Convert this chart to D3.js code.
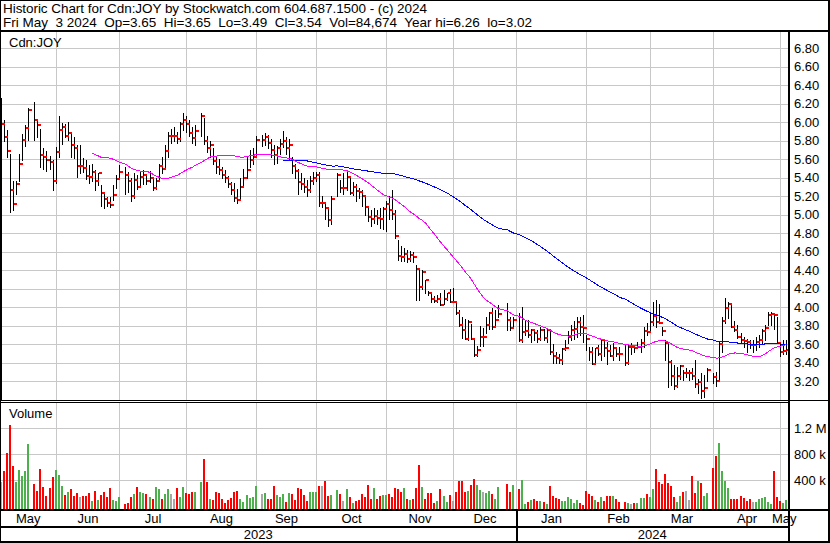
<!DOCTYPE html>
<html>
<head>
<meta charset="utf-8">
<script src="https://cdn.jsdelivr.net/npm/d3@7"></script>
<style>
body { margin: 0; background: #fff; }
text { font-family: "Liberation Sans", Arial, sans-serif; }
</style>
</head>
<body>
<script>
var width = 830,
    height = 543;

//chart frame
var plotR = 788,
    priceBot = 400,
    volTop = 403,
    volBot = 509;

//TSX holidays, weekdays with no trading
var holidays = ["2023-05-22", "2023-07-03", "2023-08-07", "2023-09-04", "2023-10-09",
                "2023-12-25", "2023-12-26", "2024-01-01", "2024-02-19", "2024-03-29"];

//daily bars, May 8 2023 - May 3 2024 (one line per month)
var hi = [6.26,6.02,5.92,5.66,5.36,5.36,5.66,5.87,5.97,6.15,6.22,6.01,5.93,5.72,5.69,5.64,5.59,
  5.73,6.07,5.99,5.98,6.00,5.90,5.84,5.75,5.75,5.61,5.59,5.54,5.55,5.48,5.45,5.32,5.23,5.19,5.19,5.32,5.43,5.54,
  5.52,5.46,5.40,5.45,5.43,5.46,5.48,5.44,5.47,5.40,5.40,5.55,5.62,5.75,5.90,5.93,5.95,5.90,6.00,6.10,
  6.07,6.03,5.95,5.97,6.10,6.05,5.85,5.80,5.72,5.64,5.60,5.52,5.48,5.42,5.35,5.34,5.28,5.40,5.50,5.62,5.70,5.72,
  5.85,5.86,5.88,5.86,5.82,5.75,5.74,5.82,5.91,5.84,5.82,5.62,5.55,5.50,5.45,5.40,5.38,5.42,5.46,5.46,
  5.46,5.20,5.13,5.07,5.20,5.45,5.38,5.45,5.47,5.42,5.35,5.33,5.29,5.27,5.20,5.10,5.05,5.07,5.05,5.07,5.08,
  5.15,5.20,5.27,5.05,4.73,4.66,4.64,4.62,4.61,4.60,4.46,4.40,4.40,4.30,4.18,4.16,4.12,4.13,4.15,4.19,4.15,4.20,
  4.21,4.06,3.97,3.90,3.87,3.86,3.82,3.66,3.58,3.80,3.78,3.90,3.95,3.99,3.97,4.02,4.05,3.90,3.90,
  3.94,4.00,3.86,3.86,3.77,3.74,3.76,3.79,3.77,3.77,3.74,3.60,3.52,3.50,3.56,3.65,3.74,3.81,3.85,3.90,3.90,3.92,
  3.70,3.57,3.57,3.56,3.59,3.66,3.66,3.63,3.59,3.61,3.56,3.57,3.59,3.60,3.61,3.59,3.63,3.66,3.79,3.83,
  3.95,4.06,4.08,4.04,3.79,3.65,3.63,3.43,3.38,3.36,3.38,3.32,3.34,3.32,3.34,3.43,3.23,3.29,3.27,3.34,
  3.29,3.30,3.63,3.90,4.10,4.06,4.04,3.85,3.81,3.72,3.68,3.66,3.65,3.65,3.68,3.70,3.77,3.81,3.95,3.95,3.94,3.90,
  3.61,3.65,3.65];

var lo = [3.00,5.80,5.62,5.03,5.05,5.22,5.36,5.59,5.74,5.81,5.81,5.84,5.52,5.50,5.47,5.50,5.27,
  5.34,5.63,5.77,5.84,5.81,5.63,5.61,5.41,5.45,5.46,5.39,5.34,5.37,5.27,5.32,5.10,5.07,5.09,5.08,5.16,5.29,5.41,
  5.23,5.25,5.15,5.18,5.28,5.30,5.33,5.33,5.35,5.27,5.28,5.37,5.45,5.50,5.62,5.78,5.80,5.78,5.80,5.92,
  5.90,5.85,5.78,5.75,5.85,5.77,5.68,5.62,5.55,5.45,5.44,5.40,5.35,5.30,5.22,5.15,5.13,5.18,5.32,5.40,5.52,5.55,
  5.62,5.74,5.75,5.72,5.62,5.55,5.56,5.66,5.73,5.66,5.60,5.45,5.40,5.23,5.28,5.25,5.20,5.25,5.33,5.36,
  5.10,5.08,4.95,4.88,4.90,5.20,5.25,5.23,5.27,5.22,5.21,5.15,5.18,5.10,5.00,4.93,4.88,4.91,4.90,4.86,4.85,
  4.83,4.95,4.95,4.75,4.51,4.50,4.50,4.49,4.50,4.49,4.08,4.08,4.20,4.15,4.13,4.06,4.06,4.06,4.02,4.04,4.08,4.06,
  4.06,3.93,3.80,3.67,3.66,3.65,3.66,3.47,3.47,3.58,3.58,3.72,3.77,3.77,3.81,3.90,3.75,3.75,3.80,
  3.64,3.63,3.70,3.68,3.63,3.65,3.63,3.65,3.65,3.63,3.50,3.40,3.40,3.40,3.39,3.54,3.61,3.65,3.66,3.68,3.70,3.63,
  3.54,3.43,3.39,3.39,3.48,3.43,3.47,3.39,3.47,3.43,3.47,3.43,3.38,3.39,3.50,3.52,3.56,3.52,3.57,3.70,
  3.74,3.81,3.79,3.83,3.70,3.43,3.14,3.16,3.12,3.14,3.23,3.21,3.25,3.21,3.23,3.14,3.07,3.02,3.03,3.20,
  3.18,3.15,3.23,3.52,3.83,3.88,3.79,3.74,3.67,3.61,3.57,3.52,3.56,3.52,3.54,3.57,3.61,3.65,3.81,3.81,3.77,3.61,
  3.47,3.50,3.49];

var cl = [5.98,5.84,5.69,5.27,5.12,5.33,5.55,5.81,5.94,6.13,6.02,5.97,5.65,5.63,5.59,5.57,5.36,
  5.68,5.92,5.95,5.85,5.88,5.76,5.72,5.53,5.53,5.51,5.42,5.41,5.46,5.36,5.45,5.24,5.17,5.13,5.11,5.21,5.39,5.46,
  5.43,5.37,5.20,5.38,5.30,5.41,5.43,5.36,5.40,5.29,5.36,5.53,5.50,5.69,5.85,5.85,5.85,5.82,5.98,6.02,
  5.98,5.88,5.83,5.91,6.07,5.80,5.72,5.75,5.58,5.52,5.48,5.43,5.40,5.33,5.27,5.18,5.16,5.30,5.40,5.48,5.59,5.63,
  5.81,5.81,5.84,5.78,5.70,5.65,5.72,5.77,5.80,5.72,5.75,5.53,5.47,5.35,5.33,5.30,5.27,5.36,5.40,5.43,
  5.13,5.13,5.07,4.94,5.17,5.43,5.29,5.29,5.41,5.24,5.30,5.26,5.25,5.20,5.08,4.98,4.96,4.99,4.97,4.95,5.06,
  5.12,5.05,5.01,4.77,4.56,4.54,4.58,4.52,4.57,4.54,4.41,4.22,4.38,4.29,4.16,4.09,4.07,4.09,4.03,4.09,4.15,4.06,
  4.06,3.94,3.81,3.75,3.66,3.84,3.66,3.48,3.54,3.68,3.68,3.81,3.94,3.79,3.86,3.93,3.86,3.78,3.86,
  3.65,3.73,3.74,3.70,3.76,3.72,3.66,3.75,3.67,3.75,3.52,3.47,3.45,3.43,3.55,3.56,3.68,3.76,3.77,3.84,3.79,3.78,
  3.66,3.52,3.39,3.56,3.49,3.65,3.56,3.53,3.47,3.56,3.50,3.49,3.40,3.57,3.57,3.56,3.57,3.61,3.74,3.73,
  3.84,3.91,3.84,3.83,3.74,3.61,3.41,3.26,3.15,3.26,3.37,3.29,3.29,3.29,3.26,3.17,3.19,3.09,3.13,3.32,
  3.25,3.20,3.60,3.85,3.99,4.04,3.79,3.76,3.68,3.65,3.64,3.62,3.59,3.59,3.62,3.65,3.74,3.78,3.92,3.93,3.92,3.61,
  3.52,3.53,3.54];

//volume in thousands of shares
var vol = [374,538,821,1246,615,369,554,462,538,954,338,236,569,292,154,277,446,
  554,477,308,169,215,262,154,200,138,154,154,200,77,231,92,169,215,138,277,92,77,138,
  31,46,138,185,292,215,200,185,138,108,292,262,108,185,262,185,108,277,138,292,
  200,185,215,215,369,723,369,108,92,215,200,108,46,92,123,215,231,108,62,169,123,138,
  308,185,200,108,108,308,169,138,185,62,200,185,92,277,262,169,77,215,215,215,
  308,308,385,154,169,246,185,77,262,138,46,77,92,185,138,323,108,277,108,154,169,
  169,185,138,277,262,215,277,108,92,108,277,631,292,108,200,200,46,77,262,154,62,169,
  77,215,385,385,215,231,323,415,323,246,215,200,231,190,108,292,338,215,323,
  262,400,31,62,92,108,77,77,62,31,308,154,123,108,77,77,138,108,46,92,46,15,
  231,185,154,92,62,138,77,154,154,154,108,62,62,46,31,46,46,123,123,185,
  138,262,569,369,338,492,354,308,138,62,154,215,231,92,462,200,385,354,154,200,
  585,769,969,538,385,277,108,108,108,154,123,77,108,62,62,108,123,138,62,31,538,138,
  77,46,84.674];

var priceTicks = [3.2, 3.4, 3.6, 3.8, 4.0, 4.2, 4.4, 4.6, 4.8, 5.0, 5.2, 5.4, 5.6, 5.8, 6.0, 6.2, 6.4, 6.6, 6.8];
var volTicks = [400000, 800000, 1200000],
    volTickLabels = ["400 k", "800 k", "1.2 M"];
var yearLabels = ["2023", "2024"];
var maShort = 30, maLong = 90;

var headerLine1 = "Historic Chart for Cdn:JOY by Stockwatch.com 604.687.1500 - (c) 2024";
var headerLine2 = "Fri May  3 2024  Op=3.65  Hi=3.65  Lo=3.49  Cl=3.54  Vol=84,674  Year hi=6.26  lo=3.02";

//weekday slots (holidays keep an empty slot)
var parse = d3.timeParse("%Y-%m-%d");
var hol = holidays.map(function(s) { return +parse(s); });
var slots = d3.timeDay.range(new Date(2023, 4, 8), new Date(2024, 4, 4))
    .filter(function(d) { var w = d.getDay(); return w > 0 && w < 6; });
var days = slots.filter(function(d) { return hol.indexOf(+d) < 0; });

var data = days.map(function(d, i) {
    return {date: d, hi: hi[i], lo: lo[i], cl: cl[i], vol: vol[i] * 1000,
            chg: i == 0 ? 0 : Math.sign(Math.round((cl[i] - cl[i-1]) * 100))};
});

//scales
var x = d3.scaleBand().domain(slots).range([0, plotR]);
var y = d3.scaleLinear().domain([3, 7]).range([399.8, 29.8]);
var yv = d3.scaleLinear().domain([0, 1200000]).range([506, 428]);

function cx(d) { return x(d) + x.bandwidth() / 2; }
function col(d) { return Math.floor(cx(d)); }

//DOM init
var svg = d3.select("body")
    .append("svg")
    .attr("width", width)
    .attr("height", height)
    .style("display", "block")
    .attr("shape-rendering", "crispEdges");

svg.append("rect").attr("width", width).attr("height", height).attr("fill", "#fff");

// ================ grid ================
//month gridlines: first day of month, pushed back to a weekday
var monthGrid = d3.timeMonth.range(new Date(2023, 5, 1), new Date(2024, 4, 2)).map(function(m) {
    var d = new Date(m);
    while (d.getDay() == 0 || d.getDay() == 6) d = d3.timeDay.offset(d, -1);
    return col(d) + 0.5;
});

var grid = svg.append("g").attr("stroke", "#c8c8c8");
monthGrid.forEach(function(gx) {
    grid.append("line").attr("x1", gx).attr("x2", gx).attr("y1", 32).attr("y2", priceBot);
    grid.append("line").attr("x1", gx).attr("x2", gx).attr("y1", volTop).attr("y2", volBot);
});

//price axis + horizontal grid
var priceAxis = svg.append("g")
    .attr("transform", "translate(" + plotR + ",0)")
    .call(d3.axisRight(y).tickValues(priceTicks).tickSize(-plotR).tickPadding(6)
        .tickFormat(d3.format(".2f")));
priceAxis.select(".domain").remove();
priceAxis.selectAll("line").attr("stroke", "#c8c8c8");
priceAxis.attr("font-size", 13).attr("font-family", null);

//volume axis + grid
var volAxis = svg.append("g")
    .attr("transform", "translate(" + plotR + ",0)")
    .call(d3.axisRight(yv).tickValues(volTicks).tickSize(-plotR).tickPadding(6)
        .tickFormat(function(v, i) { return volTickLabels[i]; }));
volAxis.select(".domain").remove();
volAxis.selectAll("line").attr("stroke", "#c8c8c8");
volAxis.attr("font-size", 13).attr("font-family", null);

// ================ volume ================
var volColor = {"1": "#4cb04c", "-1": "#ff0000", "0": "#a8a8a8"};
svg.append("g").selectAll("rect")
    .data(data)
    .enter().append("rect")
    .attr("x", function(d) { return col(d.date) - 1; })
    .attr("width", 2)
    .attr("y", function(d) { return Math.round(yv(d.vol)); })
    .attr("height", function(d) { return volBot - Math.round(yv(d.vol)); })
    .attr("fill", function(d) { return volColor[d.chg]; });

// ================ price bars ================
svg.append("clipPath").attr("id", "pclip")
    .append("rect").attr("x", 0).attr("y", 32).attr("width", plotR).attr("height", priceBot - 32);

var bars = svg.append("g").attr("clip-path", "url(#pclip)");
bars.selectAll("line")
    .data(data)
    .enter().append("line")
    .attr("x1", function(d) { return col(d.date) + 0.5; })
    .attr("x2", function(d) { return col(d.date) + 0.5; })
    .attr("y1", function(d) { return Math.round(y(d.hi)); })
    .attr("y2", function(d) { return Math.round(y(d.lo)) + 1; })
    .attr("stroke", "#000");

bars.selectAll("rect.close")
    .data(data)
    .enter().append("rect")
    .attr("class", "close")
    .attr("x", function(d) { return col(d.date) + 1; })
    .attr("y", function(d) { return Math.round(y(d.cl)) - 1; })
    .attr("width", 3)
    .attr("height", 2)
    .attr("fill", "#ff0000");

//moving averages of the close
function sma(n) {
    var out = [];
    for (var i = n - 1; i < data.length; i++) {
        out.push({date: data[i].date, v: d3.mean(data.slice(i - n + 1, i + 1), function(e) { return e.cl; })});
    }
    return out;
}
var maLine = d3.line()
    .x(function(d) { return cx(d.date); })
    .y(function(d) { return y(d.v); });

bars.append("path").attr("d", maLine(sma(maLong)))
    .attr("fill", "none").attr("stroke", "#0000ff").attr("stroke-width", 1);
bars.append("path").attr("d", maLine(sma(maShort)))
    .attr("fill", "none").attr("stroke", "#ff00ff").attr("stroke-width", 1);

// ================ text ================
var txt = svg.append("g").attr("fill", "#000").attr("font-size", 13);

txt.append("text").attr("x", 3).attr("y", 12.5).attr("font-size", 13.5)
    .attr("textLength", 424).attr("lengthAdjust", "spacing")
    .style("white-space", "pre").text(headerLine1);
txt.append("text").attr("x", 3).attr("y", 27).attr("font-size", 13.5)
    .attr("textLength", 529).attr("lengthAdjust", "spacing")
    .style("white-space", "pre").text(headerLine2);
txt.append("text").attr("x", 9).attr("y", 47).text("Cdn:JOY");
txt.append("text").attr("x", 9).attr("y", 418).text("Volume");

//month labels centred between gridlines
var bounds = [0].concat(monthGrid).concat([plotR]);
var monthNames = [new Date(2023, 4, 1)].concat(d3.timeMonth.range(new Date(2023, 5, 1), new Date(2024, 4, 2)));
monthNames.forEach(function(m, i) {
    txt.append("text")
        .attr("x", (bounds[i] + bounds[i + 1]) / 2)
        .attr("y", 523)
        .attr("text-anchor", "middle")
        .text(d3.timeFormat("%b")(m));
});

//year labels
var janX = monthGrid[7];
var yearBounds = [0, janX, plotR];
yearLabels.forEach(function(yl, i) {
    txt.append("text")
        .attr("x", (yearBounds[i] + yearBounds[i + 1]) / 2)
        .attr("y", 539)
        .attr("text-anchor", "middle")
        .text(yl);
});

// ================ frame ================
var frame = svg.append("g").attr("fill", "#000");
frame.append("rect").attr("x", 0).attr("y", 0).attr("width", width).attr("height", 1);
frame.append("rect").attr("x", 0).attr("y", 0).attr("width", 1).attr("height", height);
frame.append("rect").attr("x", width - 2).attr("y", 0).attr("width", 2).attr("height", height);
frame.append("rect").attr("x", 0).attr("y", height - 2).attr("width", width).attr("height", 2);
frame.append("rect").attr("x", 0).attr("y", 30).attr("width", width).attr("height", 2);
frame.append("rect").attr("x", plotR).attr("y", 30).attr("width", 2).attr("height", height - 30);
frame.append("rect").attr("x", 0).attr("y", priceBot).attr("width", plotR).attr("height", 1);
frame.append("rect").attr("x", 0).attr("y", priceBot + 2).attr("width", plotR).attr("height", 1);
frame.append("rect").attr("x", plotR).attr("y", priceBot).attr("width", width - plotR).attr("height", 1);
frame.append("rect").attr("x", 0).attr("y", volBot).attr("width", width).attr("height", 2);
frame.append("rect").attr("x", 0).attr("y", 526).attr("width", plotR).attr("height", 2);
frame.append("rect").attr("x", Math.floor(janX)).attr("y", volBot).attr("width", 2).attr("height", height - volBot);
</script>
</body>
</html>
